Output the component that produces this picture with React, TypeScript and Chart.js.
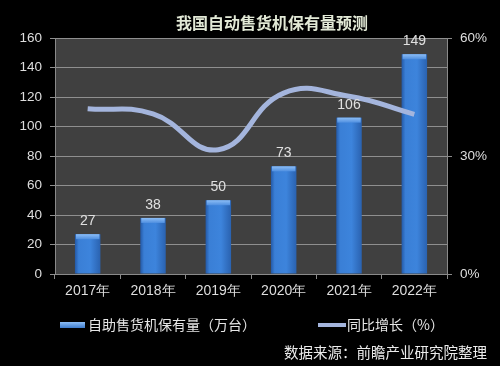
import React, { useEffect, useRef } from "react";
import { Chart, registerables } from "chart.js";

Chart.register(...registerables);

const categories = ["2017年", "2018年", "2019年", "2020年", "2021年", "2022年"];
const stockValues = [27, 38, 50, 73, 106, 149];
const growthValues = [42, 40.7, 31.6, 46, 45.2, 40.6];
const leftTickStep = 20;
const leftMax = 160;
const rightTickStep = 30;
const rightMax = 60;
const barLabel = "自助售货机保有量（万台）";
const lineLabel = "同比增长（%）";
const titleText = "我国自动售货机保有量预测";
const sourceText = "数据来源：前瞻产业研究院整理";

const CJK = '"Noto Sans CJK SC", "Noto Sans", sans-serif';
const NUM = '"Liberation Sans", Arial, sans-serif';

const decorPlugin = {
  id: "decor",
  beforeDraw(chart: any) {
    const { ctx, chartArea } = chart;
    ctx.save();
    ctx.fillStyle = "#000000";
    ctx.fillRect(0, 0, chart.width, chart.height);
    ctx.fillStyle = "#404040";
    ctx.fillRect(chartArea.left, chartArea.top, chartArea.right - chartArea.left, chartArea.bottom - chartArea.top);
    ctx.restore();
  },
  afterDatasetDraw(chart: any, args: any) {
    if (args.index !== 0) return;
    const { ctx } = chart;
    const meta = chart.getDatasetMeta(0);
    ctx.save();
    meta.data.forEach((el: any) => {
      const left = el.x - el.width / 2;
      const w = el.width;
      const top = el.y;
      const h = el.base - el.y;
      const g = ctx.createLinearGradient(left, 0, left + w, 0);
      g.addColorStop(0, "#2459a6");
      g.addColorStop(0.15, "#3a7fd6");
      g.addColorStop(0.6, "#3d84dc");
      g.addColorStop(1, "#2a62b0");
      ctx.fillStyle = g;
      ctx.fillRect(left, top, w, h);
      const cap = ctx.createLinearGradient(0, top, 0, top + 5);
      cap.addColorStop(0, "#8cbdf5");
      cap.addColorStop(1, "#4f8fe0");
      ctx.fillStyle = cap;
      ctx.fillRect(left + 1, top, w - 2, 5);
    });
    ctx.restore();
  },
  afterDatasetsDraw(chart: any) {
    const { ctx } = chart;
    const meta = chart.getDatasetMeta(0);
    ctx.save();
    ctx.fillStyle = "#e0e0e0";
    ctx.font = `14px ${NUM}`;
    ctx.textAlign = "center";
    ctx.textBaseline = "middle";
    meta.data.forEach((el: any, i: number) => {
      ctx.fillText(String(stockValues[i]), el.x, el.y - 13);
    });
    ctx.restore();
  },
  afterDraw(chart: any) {
    const { ctx } = chart;
    ctx.save();
    // title
    ctx.fillStyle = "#e2e9d6";
    ctx.font = `bold 16px ${CJK}`;
    ctx.textAlign = "center";
    ctx.textBaseline = "middle";
    ctx.fillText(titleText, 272, 23);
    // legend
    const lg = ctx.createLinearGradient(0, 322, 0, 329);
    lg.addColorStop(0, "#8cbdf5");
    lg.addColorStop(1, "#2f6fc4");
    ctx.fillStyle = lg;
    ctx.fillRect(60, 322, 25, 6);
    ctx.fillStyle = "#e6e6e6";
    ctx.font = `14px ${CJK}`;
    ctx.textAlign = "left";
    ctx.fillText(barLabel, 88, 325);
    ctx.strokeStyle = "#a4b5dd";
    ctx.lineWidth = 4;
    ctx.beginPath();
    ctx.moveTo(318, 325);
    ctx.lineTo(346, 325);
    ctx.stroke();
    ctx.fillText(lineLabel, 347, 325);
    // source
    ctx.font = `14.5px ${CJK}`;
    ctx.textAlign = "right";
    ctx.fillStyle = "#ececec";
    ctx.fillText(sourceText, 487, 352);
    ctx.restore();
  },
};

export default function App() {
  const ref = useRef<HTMLCanvasElement | null>(null);
  useEffect(() => {
    if (!ref.current) return;
    const chart = new Chart(ref.current, {
      type: "bar",
      data: {
        labels: categories,
        datasets: [
          {
            type: "bar",
            label: barLabel,
            data: stockValues,
            backgroundColor: "rgba(0,0,0,0)",
            borderWidth: 0,
            barPercentage: 0.39,
            categoryPercentage: 1,
            yAxisID: "y",
            order: 1,
          },
          {
            type: "line",
            label: lineLabel,
            data: growthValues,
            borderColor: "#a4b5dd",
            borderWidth: 5,
            pointRadius: 0,
            tension: 0.45,
            fill: false,
            yAxisID: "y1",
            order: 0,
          } as any,
        ],
      },
      options: {
        responsive: false,
        animation: false,
        layout: { padding: { top: 38, left: 0, right: 0, bottom: 0 } },
        plugins: {
          legend: { display: false },
          title: { display: false },
          tooltip: { enabled: false },
        },
        scales: {
          x: {
            offset: true,
            afterFit: (s: any) => { s.height = 92; },
            grid: {
              offset: true,
              drawOnChartArea: false,
              color: "#8a8a8a",
              tickLength: 5,
            },
            border: { color: "#8a8a8a" },
            ticks: {
              color: "#dedede",
              font: { size: 14, family: NUM },
              padding: 4,
            },
          },
          y: {
            position: "left",
            min: 0,
            max: leftMax,
            afterFit: (s: any) => { s.width = 55; },
            ticks: {
              stepSize: leftTickStep,
              color: "#dedede",
              font: { size: 13.5, family: NUM },
              padding: 8,
            },
            grid: { color: "#8f8f8f", tickLength: 5, lineWidth: 1 },
            border: { color: "#8a8a8a" },
          },
          y1: {
            position: "right",
            min: 0,
            max: rightMax,
            afterFit: (s: any) => { s.width = 53; },
            ticks: {
              stepSize: rightTickStep,
              color: "#dedede",
              font: { size: 13.5, family: NUM },
              padding: 8,
              callback: (v: any) => `${v}%`,
            },
            grid: { drawOnChartArea: false, color: "#8a8a8a", tickLength: 5 },
            border: { color: "#8a8a8a" },
          },
        },
      },
      plugins: [decorPlugin],
    });
    return () => chart.destroy();
  }, []);
  return (
    <div style={{ position: "absolute", left: 0, top: 0, width: 500, height: 366, background: "#000" }}>
      <canvas ref={ref} width={500} height={366} style={{ display: "block", width: 500, height: 366 }} />
    </div>
  );
}
